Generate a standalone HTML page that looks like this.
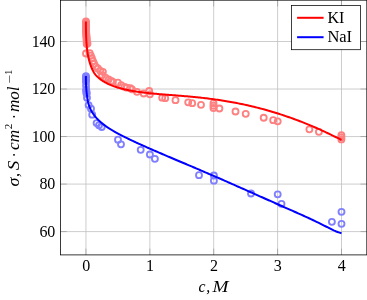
<!DOCTYPE html>
<html><head><meta charset="utf-8"><title>plot</title>
<style>
html,body{margin:0;padding:0;background:#fff;}
svg{display:block;will-change:transform;}
text{font-family:"Liberation Serif",serif;fill:#000;}
</style></head><body>
<svg width="367" height="300" viewBox="0 0 367 300">
<rect x="0" y="0" width="367" height="300" fill="#fff"/>
<g stroke="#bfbfbf" stroke-width="0.78" fill="none">
<line x1="85.95" y1="0.2" x2="85.95" y2="254.9"/>
<line x1="149.85" y1="0.2" x2="149.85" y2="254.9"/>
<line x1="213.7" y1="0.2" x2="213.7" y2="254.9"/>
<line x1="277.6" y1="0.2" x2="277.6" y2="254.9"/>
<line x1="341.5" y1="0.2" x2="341.5" y2="254.9"/>
<line x1="60.5" y1="41.5" x2="366.8" y2="41.5"/>
<line x1="60.5" y1="89.03" x2="366.8" y2="89.03"/>
<line x1="60.5" y1="136.55" x2="366.8" y2="136.55"/>
<line x1="60.5" y1="184.08" x2="366.8" y2="184.08"/>
<line x1="60.5" y1="231.6" x2="366.8" y2="231.6"/>
</g>
<g stroke="#808080" stroke-width="0.5" fill="none">
<line x1="85.95" y1="254.9" x2="85.95" y2="248.6"/>
<line x1="85.95" y1="0.2" x2="85.95" y2="6.5"/>
<line x1="149.85" y1="254.9" x2="149.85" y2="248.6"/>
<line x1="149.85" y1="0.2" x2="149.85" y2="6.5"/>
<line x1="213.7" y1="254.9" x2="213.7" y2="248.6"/>
<line x1="213.7" y1="0.2" x2="213.7" y2="6.5"/>
<line x1="277.6" y1="254.9" x2="277.6" y2="248.6"/>
<line x1="277.6" y1="0.2" x2="277.6" y2="6.5"/>
<line x1="341.5" y1="254.9" x2="341.5" y2="248.6"/>
<line x1="341.5" y1="0.2" x2="341.5" y2="6.5"/>
<line x1="60.5" y1="41.5" x2="66.8" y2="41.5"/>
<line x1="366.8" y1="41.5" x2="360.5" y2="41.5"/>
<line x1="60.5" y1="89.03" x2="66.8" y2="89.03"/>
<line x1="366.8" y1="89.03" x2="360.5" y2="89.03"/>
<line x1="60.5" y1="136.55" x2="66.8" y2="136.55"/>
<line x1="366.8" y1="136.55" x2="360.5" y2="136.55"/>
<line x1="60.5" y1="184.08" x2="66.8" y2="184.08"/>
<line x1="366.8" y1="184.08" x2="360.5" y2="184.08"/>
<line x1="60.5" y1="231.6" x2="66.8" y2="231.6"/>
<line x1="366.8" y1="231.6" x2="360.5" y2="231.6"/>
</g>
<rect x="60.5" y="0.2" width="306.3" height="254.70000000000002" fill="none" stroke="#000" stroke-width="0.78"/>
<g fill="none" stroke="#ff8080" stroke-width="1.85">
<circle cx="85.95" cy="21.40" r="3.0"/>
<circle cx="85.95" cy="22.60" r="3.0"/>
<circle cx="85.95" cy="23.80" r="3.0"/>
<circle cx="85.95" cy="25.00" r="3.0"/>
<circle cx="85.97" cy="26.20" r="3.0"/>
<circle cx="86.00" cy="27.40" r="3.0"/>
<circle cx="86.03" cy="28.60" r="3.0"/>
<circle cx="86.07" cy="29.80" r="3.0"/>
<circle cx="86.12" cy="31.00" r="3.0"/>
<circle cx="86.18" cy="32.20" r="3.0"/>
<circle cx="86.25" cy="33.40" r="3.0"/>
<circle cx="86.32" cy="34.60" r="3.0"/>
<circle cx="86.40" cy="35.80" r="3.0"/>
<circle cx="86.48" cy="37.00" r="3.0"/>
<circle cx="86.56" cy="38.20" r="3.0"/>
<circle cx="86.64" cy="39.40" r="3.0"/>
<circle cx="86.72" cy="40.60" r="3.0"/>
<circle cx="86.74" cy="41.80" r="3.0"/>
<circle cx="86.75" cy="43.00" r="3.0"/>
<circle cx="86.75" cy="44.00" r="3.0"/>
<circle cx="87.50" cy="43.60" r="3.0"/>
<circle cx="86.00" cy="53.45" r="3.0"/>
<circle cx="89.70" cy="53.05" r="3.0"/>
<circle cx="90.80" cy="55.55" r="3.0"/>
<circle cx="91.90" cy="58.25" r="3.0"/>
<circle cx="93.00" cy="61.05" r="3.0"/>
<circle cx="94.10" cy="63.75" r="3.0"/>
<circle cx="95.80" cy="66.55" r="3.0"/>
<circle cx="97.90" cy="68.45" r="3.0"/>
<circle cx="100.40" cy="70.95" r="3.0"/>
<circle cx="102.90" cy="71.85" r="3.0"/>
<circle cx="102.00" cy="75.15" r="3.0"/>
<circle cx="105.40" cy="77.65" r="3.0"/>
<circle cx="108.70" cy="79.35" r="3.0"/>
<circle cx="111.20" cy="80.95" r="3.0"/>
<circle cx="112.90" cy="81.85" r="3.0"/>
<circle cx="117.90" cy="82.65" r="3.0"/>
<circle cx="121.20" cy="85.15" r="3.0"/>
<circle cx="124.50" cy="86.85" r="3.0"/>
<circle cx="127.00" cy="87.65" r="3.0"/>
<circle cx="130.40" cy="88.15" r="3.0"/>
<circle cx="132.00" cy="89.35" r="3.0"/>
<circle cx="137.00" cy="91.85" r="3.0"/>
<circle cx="143.70" cy="93.45" r="3.0"/>
<circle cx="149.20" cy="90.95" r="3.0"/>
<circle cx="149.90" cy="94.35" r="3.0"/>
<circle cx="162.20" cy="97.65" r="3.0"/>
<circle cx="165.20" cy="98.15" r="3.0"/>
<circle cx="175.50" cy="100.15" r="3.0"/>
<circle cx="188.20" cy="102.35" r="3.0"/>
<circle cx="192.20" cy="103.15" r="3.0"/>
<circle cx="201.00" cy="104.85" r="3.0"/>
<circle cx="213.50" cy="103.15" r="3.0"/>
<circle cx="213.50" cy="105.65" r="3.0"/>
<circle cx="213.50" cy="107.95" r="3.0"/>
<circle cx="219.40" cy="108.45" r="3.0"/>
<circle cx="235.50" cy="111.45" r="3.0"/>
<circle cx="245.70" cy="113.85" r="3.0"/>
<circle cx="263.70" cy="117.75" r="3.0"/>
<circle cx="273.20" cy="120.15" r="3.0"/>
<circle cx="277.70" cy="121.35" r="3.0"/>
<circle cx="309.40" cy="129.35" r="3.0"/>
<circle cx="318.90" cy="131.85" r="3.0"/>
<circle cx="341.40" cy="135.20" r="3.0"/>
<circle cx="341.40" cy="137.35" r="3.0"/>
<circle cx="341.40" cy="139.40" r="3.0"/>
</g>
<path d="M85.90,21.60 L85.90,23.75 L85.92,25.81 L85.93,27.79 L85.96,29.69 L86.00,31.51 L86.04,33.26 L86.09,34.93 L86.14,36.54 L86.21,38.09 L86.28,39.58 L86.36,41.01 L86.45,42.39 L86.54,43.72 L86.65,45.01 L86.76,46.25 L86.88,47.45 L87.00,48.62 L87.13,49.75 L87.28,50.84 L87.42,51.90 L87.58,52.93 L87.74,53.93 L87.92,54.91 L88.09,55.86 L88.28,56.78 L88.48,57.69 L88.68,58.57 L88.89,59.44 L89.10,60.30 L89.33,61.14 L89.56,61.97 L89.80,62.78 L90.05,63.59 L90.30,64.38 L90.57,65.15 L90.84,65.91 L91.12,66.65 L91.40,67.38 L91.70,68.09 L92.00,68.79 L92.31,69.46 L92.62,70.12 L92.95,70.75 L93.28,71.37 L93.62,71.96 L93.96,72.54 L94.32,73.09 L94.68,73.61 L95.05,74.12 L95.43,74.60 L95.81,75.06 L96.20,75.50 L96.60,75.93 L97.01,76.34 L97.43,76.75 L97.85,77.14 L98.28,77.53 L98.72,77.91 L99.16,78.28 L99.62,78.65 L100.08,79.01 L100.55,79.37 L101.02,79.72 L101.51,80.07 L102.00,80.41 L102.50,80.74 L103.00,81.07 L103.52,81.39 L104.04,81.71 L104.57,82.02 L105.11,82.33 L105.65,82.63 L106.21,82.93 L106.77,83.22 L107.33,83.51 L107.91,83.79 L108.49,84.07 L109.08,84.34 L109.68,84.61 L110.29,84.87 L110.90,85.13 L111.52,85.38 L112.15,85.63 L112.79,85.88 L113.43,86.12 L114.08,86.35 L114.74,86.58 L115.41,86.81 L116.08,87.03 L116.76,87.25 L117.45,87.47 L118.15,87.68 L118.86,87.88 L119.57,88.09 L120.29,88.29 L121.02,88.48 L121.75,88.67 L122.49,88.86 L123.24,89.04 L124.00,89.23 L124.77,89.40 L125.54,89.58 L126.32,89.75 L127.11,89.91 L127.91,90.08 L128.71,90.24 L129.52,90.40 L130.34,90.55 L131.17,90.70 L132.00,90.85 L132.85,91.00 L133.70,91.14 L134.55,91.28 L135.42,91.42 L136.29,91.55 L137.17,91.68 L138.06,91.81 L138.95,91.94 L139.86,92.06 L140.77,92.19 L141.69,92.31 L142.61,92.42 L143.55,92.54 L144.49,92.65 L145.44,92.76 L146.39,92.87 L147.36,92.98 L148.33,93.09 L149.31,93.19 L150.29,93.29 L151.29,93.39 L152.29,93.49 L153.30,93.59 L154.32,93.68 L155.34,93.78 L156.38,93.87 L157.42,93.96 L158.46,94.05 L159.52,94.14 L160.58,94.23 L161.65,94.32 L162.73,94.40 L163.82,94.49 L164.91,94.58 L166.01,94.66 L167.12,94.75 L168.24,94.83 L169.36,94.92 L170.49,95.01 L171.63,95.09 L172.78,95.18 L173.93,95.27 L175.10,95.36 L176.27,95.45 L177.44,95.54 L178.63,95.64 L179.82,95.73 L181.02,95.83 L182.23,95.93 L183.44,96.03 L184.67,96.13 L185.90,96.24 L187.14,96.35 L188.38,96.46 L189.64,96.57 L190.90,96.69 L192.17,96.80 L193.44,96.93 L194.73,97.05 L196.02,97.18 L197.32,97.31 L198.62,97.45 L199.94,97.59 L201.26,97.73 L202.59,97.88 L203.93,98.03 L205.27,98.19 L206.63,98.35 L207.99,98.52 L209.35,98.69 L210.73,98.87 L212.11,99.05 L213.50,99.23 L214.90,99.43 L216.31,99.63 L217.72,99.83 L219.14,100.04 L220.57,100.25 L222.01,100.48 L223.45,100.70 L224.90,100.94 L226.36,101.18 L227.83,101.43 L229.31,101.68 L230.79,101.94 L232.28,102.21 L233.77,102.49 L235.28,102.77 L236.79,103.07 L238.31,103.37 L239.84,103.67 L241.38,103.99 L242.92,104.31 L244.47,104.64 L246.03,104.98 L247.59,105.33 L249.17,105.69 L250.75,106.06 L252.34,106.43 L253.94,106.82 L255.54,107.21 L257.15,107.62 L258.77,108.03 L260.40,108.45 L262.03,108.89 L263.67,109.33 L265.32,109.79 L266.98,110.25 L268.65,110.72 L270.32,111.21 L272.00,111.71 L273.69,112.21 L275.38,112.73 L277.09,113.26 L278.80,113.80 L280.52,114.35 L282.24,114.92 L283.98,115.49 L285.72,116.08 L287.47,116.68 L289.22,117.29 L290.99,117.92 L292.76,118.55 L294.54,119.20 L296.32,119.87 L298.12,120.54 L299.92,121.23 L301.73,121.93 L303.55,122.65 L305.37,123.38 L307.21,124.12 L309.05,124.88 L310.90,125.65 L312.75,126.43 L314.61,127.23 L316.49,128.04 L318.36,128.87 L320.25,129.71 L322.14,130.57 L324.04,131.44 L325.95,132.33 L327.87,133.23 L329.79,134.15 L331.73,135.09 L333.67,136.04 L335.61,137.00 L337.57,137.98 L339.53,138.98 L341.50,139.99" fill="none" stroke="#ff0000" stroke-width="2.0" stroke-linejoin="round"/>
<g fill="none" stroke="#8080ff" stroke-width="1.85">
<circle cx="85.95" cy="76.20" r="3.0"/>
<circle cx="85.95" cy="77.20" r="3.0"/>
<circle cx="85.95" cy="78.40" r="3.0"/>
<circle cx="85.95" cy="79.60" r="3.0"/>
<circle cx="85.97" cy="80.80" r="3.0"/>
<circle cx="86.00" cy="81.70" r="3.0"/>
<circle cx="86.05" cy="85.60" r="3.0"/>
<circle cx="86.20" cy="89.50" r="3.0"/>
<circle cx="86.30" cy="90.60" r="3.0"/>
<circle cx="86.40" cy="91.80" r="3.0"/>
<circle cx="86.55" cy="93.00" r="3.0"/>
<circle cx="86.60" cy="93.80" r="3.0"/>
<circle cx="87.00" cy="97.80" r="3.0"/>
<circle cx="88.60" cy="105.05" r="3.0"/>
<circle cx="91.00" cy="108.65" r="3.0"/>
<circle cx="92.20" cy="114.65" r="3.0"/>
<circle cx="96.60" cy="123.05" r="3.0"/>
<circle cx="99.00" cy="125.15" r="3.0"/>
<circle cx="101.70" cy="126.95" r="3.0"/>
<circle cx="118.00" cy="139.65" r="3.0"/>
<circle cx="121.00" cy="144.35" r="3.0"/>
<circle cx="140.70" cy="149.85" r="3.0"/>
<circle cx="149.90" cy="154.45" r="3.0"/>
<circle cx="154.90" cy="158.85" r="3.0"/>
<circle cx="199.00" cy="175.15" r="3.0"/>
<circle cx="213.90" cy="175.45" r="3.0"/>
<circle cx="213.90" cy="180.65" r="3.0"/>
<circle cx="251.00" cy="193.45" r="3.0"/>
<circle cx="277.70" cy="194.35" r="3.0"/>
<circle cx="281.50" cy="203.85" r="3.0"/>
<circle cx="331.90" cy="221.85" r="3.0"/>
<circle cx="341.50" cy="211.85" r="3.0"/>
<circle cx="341.50" cy="223.85" r="3.0"/>
</g>
<path d="M85.90,76.10 L85.90,77.95 L85.92,79.62 L85.93,81.13 L85.96,82.51 L86.00,83.77 L86.04,84.93 L86.09,86.02 L86.14,87.04 L86.21,88.03 L86.28,88.99 L86.36,89.94 L86.45,90.87 L86.54,91.80 L86.65,92.73 L86.76,93.66 L86.88,94.60 L87.00,95.55 L87.13,96.53 L87.28,97.52 L87.42,98.52 L87.58,99.51 L87.74,100.46 L87.92,101.35 L88.09,102.18 L88.28,102.95 L88.48,103.68 L88.68,104.37 L88.89,105.04 L89.10,105.70 L89.33,106.34 L89.56,106.96 L89.80,107.56 L90.05,108.15 L90.30,108.73 L90.57,109.29 L90.84,109.84 L91.12,110.39 L91.40,110.92 L91.70,111.45 L92.00,111.97 L92.31,112.48 L92.62,112.98 L92.95,113.48 L93.28,113.97 L93.62,114.46 L93.96,114.94 L94.32,115.41 L94.68,115.88 L95.05,116.34 L95.43,116.80 L95.81,117.26 L96.20,117.71 L96.60,118.16 L97.01,118.60 L97.43,119.04 L97.85,119.47 L98.28,119.91 L98.72,120.34 L99.16,120.76 L99.62,121.18 L100.08,121.60 L100.55,122.02 L101.02,122.43 L101.51,122.84 L102.00,123.25 L102.50,123.65 L103.00,124.06 L103.52,124.46 L104.04,124.85 L104.57,125.25 L105.11,125.64 L105.65,126.04 L106.21,126.43 L106.77,126.81 L107.33,127.20 L107.91,127.59 L108.49,127.97 L109.08,128.35 L109.68,128.74 L110.29,129.12 L110.90,129.50 L111.52,129.87 L112.15,130.25 L112.79,130.63 L113.43,131.01 L114.08,131.38 L114.74,131.76 L115.41,132.14 L116.08,132.51 L116.76,132.89 L117.45,133.27 L118.15,133.64 L118.86,134.02 L119.57,134.40 L120.29,134.77 L121.02,135.15 L121.75,135.53 L122.49,135.91 L123.24,136.30 L124.00,136.68 L124.77,137.06 L125.54,137.45 L126.32,137.83 L127.11,138.22 L127.91,138.61 L128.71,139.00 L129.52,139.39 L130.34,139.78 L131.17,140.18 L132.00,140.57 L132.85,140.97 L133.70,141.37 L134.55,141.77 L135.42,142.17 L136.29,142.57 L137.17,142.98 L138.06,143.38 L138.95,143.79 L139.86,144.20 L140.77,144.61 L141.69,145.03 L142.61,145.44 L143.55,145.86 L144.49,146.28 L145.44,146.70 L146.39,147.13 L147.36,147.55 L148.33,147.98 L149.31,148.41 L150.29,148.84 L151.29,149.27 L152.29,149.71 L153.30,150.15 L154.32,150.59 L155.34,151.03 L156.38,151.48 L157.42,151.93 L158.46,152.38 L159.52,152.83 L160.58,153.29 L161.65,153.75 L162.73,154.21 L163.82,154.67 L164.91,155.14 L166.01,155.61 L167.12,156.08 L168.24,156.56 L169.36,157.03 L170.49,157.51 L171.63,158.00 L172.78,158.48 L173.93,158.97 L175.10,159.47 L176.27,159.96 L177.44,160.46 L178.63,160.96 L179.82,161.47 L181.02,161.98 L182.23,162.49 L183.44,163.00 L184.67,163.52 L185.90,164.04 L187.14,164.57 L188.38,165.10 L189.64,165.63 L190.90,166.16 L192.17,166.70 L193.44,167.25 L194.73,167.79 L196.02,168.34 L197.32,168.90 L198.62,169.45 L199.94,170.02 L201.26,170.58 L202.59,171.15 L203.93,171.72 L205.27,172.30 L206.63,172.88 L207.99,173.46 L209.35,174.05 L210.73,174.65 L212.11,175.24 L213.50,175.85 L214.90,176.45 L216.31,177.06 L217.72,177.67 L219.14,178.29 L220.57,178.92 L222.01,179.54 L223.45,180.17 L224.90,180.81 L226.36,181.45 L227.83,182.09 L229.31,182.74 L230.79,183.39 L232.28,184.05 L233.77,184.71 L235.28,185.38 L236.79,186.05 L238.31,186.72 L239.84,187.39 L241.38,188.08 L242.92,188.76 L244.47,189.45 L246.03,190.14 L247.59,190.84 L249.17,191.54 L250.75,192.24 L252.34,192.95 L253.94,193.66 L255.54,194.37 L257.15,195.09 L258.77,195.81 L260.40,196.54 L262.03,197.27 L263.67,198.00 L265.32,198.73 L266.98,199.47 L268.65,200.22 L270.32,200.96 L272.00,201.71 L273.69,202.46 L275.38,203.22 L277.09,203.98 L278.80,204.74 L280.52,205.50 L282.24,206.27 L283.98,207.04 L285.72,207.82 L287.47,208.60 L289.22,209.38 L290.99,210.16 L292.76,210.94 L294.54,211.73 L296.32,212.53 L298.12,213.33 L299.92,214.13 L301.73,214.95 L303.55,215.77 L305.37,216.60 L307.21,217.43 L309.05,218.28 L310.90,219.14 L312.75,220.01 L314.61,220.89 L316.49,221.79 L318.36,222.70 L320.25,223.62 L322.14,224.56 L324.04,225.52 L325.95,226.49 L327.87,227.48 L329.79,228.47 L331.73,229.43 L333.67,230.35 L335.61,231.21 L337.57,231.98 L339.53,232.65 L341.50,233.20" fill="none" stroke="#0000ff" stroke-width="2.0" stroke-linejoin="round"/>
<text x="54.9" y="46.8" font-size="16" text-anchor="end" letter-spacing="-0.3">140</text>
<text x="54.9" y="94.33" font-size="16" text-anchor="end" letter-spacing="-0.3">120</text>
<text x="54.9" y="141.85000000000002" font-size="16" text-anchor="end" letter-spacing="-0.3">100</text>
<text x="54.9" y="189.38000000000002" font-size="16" text-anchor="end" letter-spacing="-0.3">80</text>
<text x="54.9" y="236.9" font-size="16" text-anchor="end" letter-spacing="-0.3">60</text>
<text x="86.2" y="270.8" font-size="16" text-anchor="middle">0</text>
<text x="150.1" y="270.8" font-size="16" text-anchor="middle">1</text>
<text x="213.95" y="270.8" font-size="16" text-anchor="middle">2</text>
<text x="277.85" y="270.8" font-size="16" text-anchor="middle">3</text>
<text x="341.75" y="270.8" font-size="16" text-anchor="middle">4</text>
<g font-size="15.7" font-style="italic"><text x="198.4" y="292.1">c</text><text x="206.3" y="292.1">,</text><text x="212.4" y="292.1" textLength="16" lengthAdjust="spacingAndGlyphs">M</text></g>
<g transform="translate(18.6,186.5) rotate(-90)" font-size="15.7" font-style="italic"><text x="0" y="0" textLength="9.0" lengthAdjust="spacingAndGlyphs">σ</text><text x="9.6" y="0">,</text><text x="21" y="0" text-anchor="middle" textLength="9.6" lengthAdjust="spacingAndGlyphs">S</text><text x="31.5" y="1.5" text-anchor="middle">·</text><text x="36.6" y="0" textLength="20" lengthAdjust="spacingAndGlyphs">cm</text><text x="57.2" y="-6.6" font-size="11" font-style="normal">2</text><text x="69.8" y="1.5" text-anchor="middle">·</text><text x="74.5" y="0" textLength="25.6" lengthAdjust="spacingAndGlyphs">mol</text><text x="102.7" y="-5.4" font-size="11" font-style="normal" textLength="8.8" lengthAdjust="spacingAndGlyphs">−</text><text x="111.6" y="-6.3" font-size="11" font-style="normal">1</text></g>
<rect x="291.5" y="5.5" width="69.0" height="44.2" fill="#fff" stroke="#000" stroke-width="0.75"/>
<line x1="297.1" y1="17.8" x2="323.6" y2="17.8" stroke="#ff0000" stroke-width="2.0"/>
<line x1="297.1" y1="37.2" x2="323.6" y2="37.2" stroke="#0000ff" stroke-width="2.0"/>
<text x="327.5" y="22.6" font-size="15.7" textLength="16.9" lengthAdjust="spacingAndGlyphs">KI</text>
<text x="327.4" y="41.6" font-size="15.7" textLength="24.7" lengthAdjust="spacingAndGlyphs">NaI</text>
</svg></body></html>
